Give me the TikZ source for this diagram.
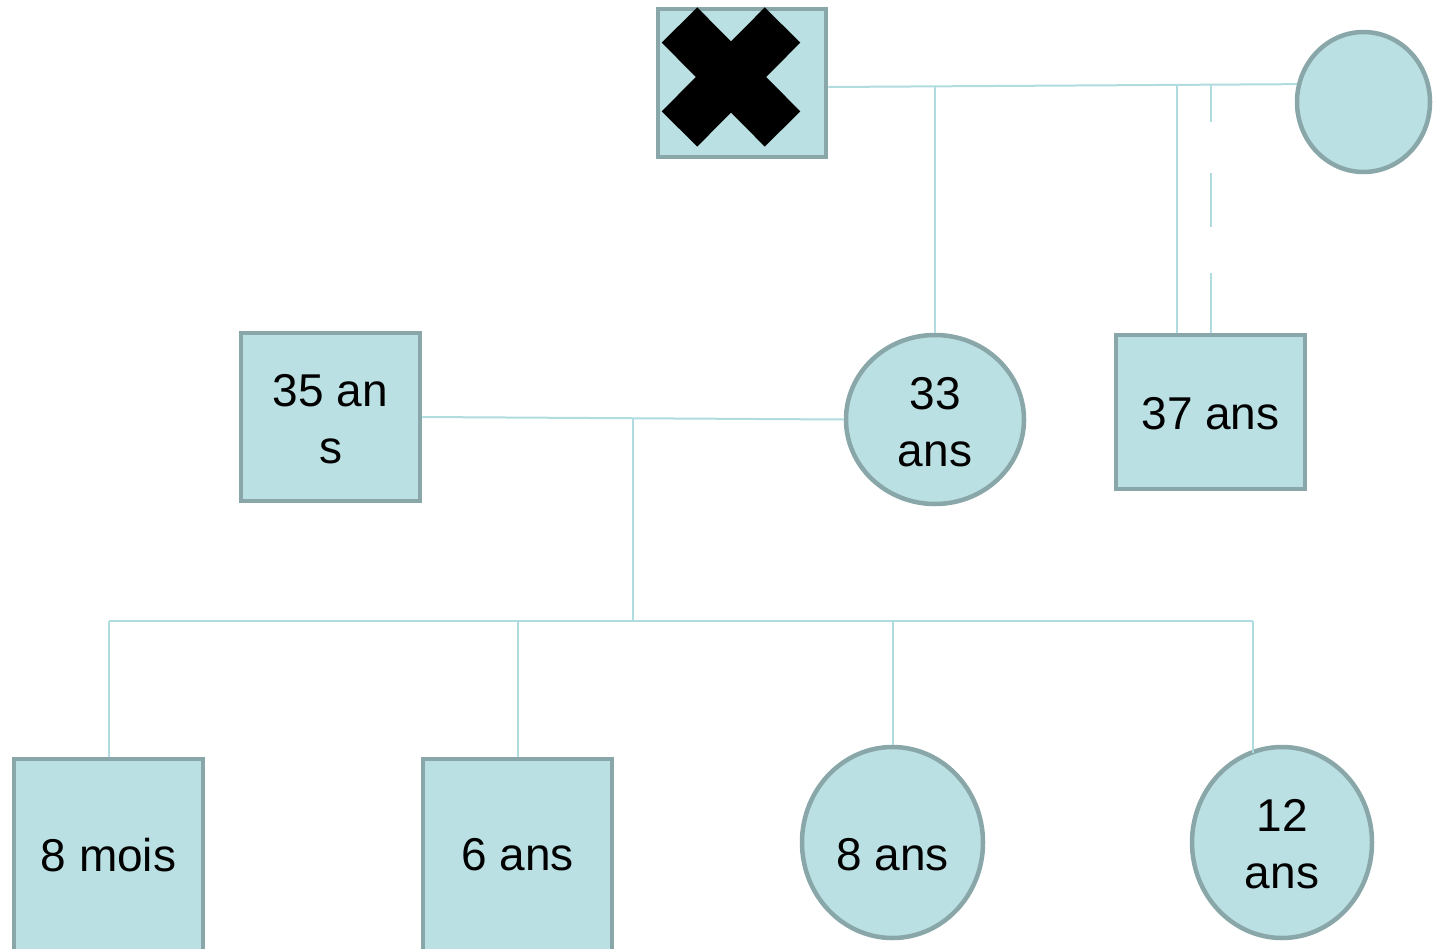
\documentclass[tikz,border=0pt]{standalone}
\usepackage{fontspec}
\setmainfont{Liberation Sans}
\usetikzlibrary{shapes.geometric,calc}
\definecolor{fillc}{HTML}{BAE0E3}
\definecolor{bord}{HTML}{89A6A8}
\definecolor{linec}{HTML}{B0DCE0}
\newcommand{\dn}[2]{\raisebox{-#1pt}[\height][\depth]{#2}}
\begin{document}
\begin{tikzpicture}[x=1pt,y=-1pt,
  box/.style={draw=bord,fill=fillc,line width=4.5pt,inner sep=0pt,rectangle,align=center,
    text=black,font=\fontsize{46}{57}\selectfont},
  ell/.style={box,ellipse},
  link/.style={draw=linec,line width=2pt},
  crossbar/.style={draw=black,line width=50pt,line cap=butt}]
\clip (0,0) rectangle (1435,948);
% nodes
\node[box,minimum width=168pt,minimum height=148pt] (x) at (742,83) {};
\node[ell,minimum width=133pt,minimum height=140pt] (w) at (1363.5,102) {};
\node[box,minimum width=179pt,minimum height=168pt] (b35) at (330.5,417) {\dn{2}{35 an}\\\dn{2}{s}};
\node[ell,minimum width=178pt,minimum height=169pt] (c33) at (935,419.5) {\dn{3}{33}\\\dn{3}{ans}};
\node[box,minimum width=189pt,minimum height=154pt] (b37) at (1210.5,412) {\dn{2}{37 ans}};
\node[box,minimum width=189pt,minimum height=192pt] (k1) at (108.5,855) {8 mois};
\node[box,minimum width=189pt,minimum height=192pt] (k2) at (517.5,855) {6 ans};
\node[ell,minimum width=181pt,minimum height=191pt] (k3) at (892.5,842.5) {\dn{12}{8 ans}};
\node[ell,minimum width=180pt,minimum height=191pt] (k4) at (1282,842.5) {\dn{2}{12}\\\dn{2}{ans}};
% cross
\draw[crossbar] ($(x.center)+(-62.5,-58)$) -- ($(x.center)+(40.5,46)$);
\draw[crossbar] ($(x.center)+(40.5,-58)$) -- ($(x.center)+(-62.5,46)$);
% couple line top
\coordinate (xe) at ([yshift=-4pt]x.east);
\draw[link] (xe) -- (w.165);
\draw[link] (c33.north) -- (c33.north |- xe);
\draw[link] ([xshift=-33.5pt]b37.north) -- ([xshift=-33.5pt]b37.north |- w.165);
\draw[link,dash pattern=on 38pt off 51pt on 54pt off 46pt on 70pt]
  ([xshift=0.5pt]b37.north |- w.165) -- ([xshift=0.5pt]b37.north);
% couple line middle
\draw[link] (b35.east) -- (c33.west);
\coordinate (mid) at ($(b35.east)!0.5!(c33.west)$);
\coordinate (sib) at (633,621);
\coordinate (k4top) at ($(k4.center)+(-29,-90)$);
\draw[link] (mid) -- (mid |- sib);
\draw[link] (k1.north |- sib) -- (k4top |- sib);
\draw[link] (k1.north) -- (k1.north |- sib);
\draw[link] (k2.north) -- (k2.north |- sib);
\draw[link] (k3.north) -- (k3.north |- sib);
\draw[link] (k4top) -- (k4top |- sib);
\end{tikzpicture}
\end{document}
